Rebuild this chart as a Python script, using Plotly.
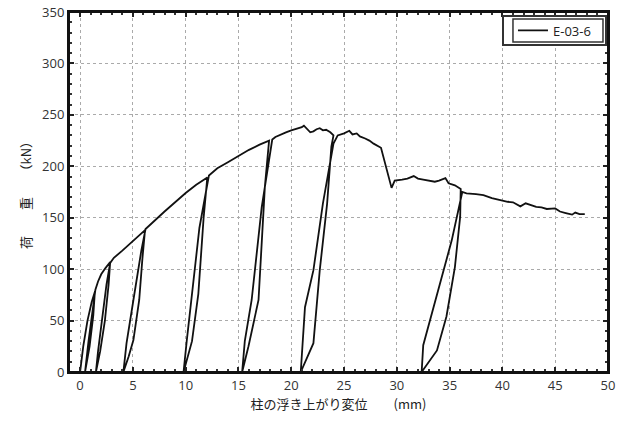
import plotly.graph_objects as go

# --- data (displacement mm, load kN), in loading order ---
c1_x = [0.0, 0.3, 0.7, 1.1, 1.4, 1.25, 0.9, 0.47, 0.8, 1.2, 1.45]
c1_y = [0, 25, 50, 68, 78, 55, 25, 0, 30, 60, 80]
env1_x = [1.7, 2.0, 2.4, 2.85]
env1_y = [88, 95, 101, 107]
c2_x = [2.7, 2.35, 1.9, 1.5, 1.7, 2.1, 2.5, 2.85, 3.2]
c2_y = [85, 50, 20, 0, 20, 55, 85, 106, 111]
env2_x = [4.0, 5.0, 6.15]
env2_y = [118, 127, 138]
c3_x = [5.9, 5.6, 5.05, 4.6, 4.1, 4.4, 5.05, 5.8, 6.2]
c3_y = [110, 70, 31, 15, 0, 28, 70, 118, 139]
env3_x = [7.0, 8.0, 9.0, 10.0, 11.0, 12.05]
env3_y = [147, 156, 165, 174, 182, 189]
c4_x = [11.7, 11.2, 10.6, 9.8, 10.1, 10.6, 11.3, 12.2]
c4_y = [150, 76, 30, 0, 30, 77, 140, 191]
env4_x = [13.0, 14.0, 15.0, 16.0, 17.0, 17.9]
env4_y = [198, 204, 210, 216, 221, 225]
c5_x = [17.5, 16.9, 15.95, 15.35, 15.6, 16.25, 17.2, 18.2]
c5_y = [180, 70, 25, 0, 30, 70, 160, 226]
env5_x = [18.5, 19.0, 19.5, 20.0, 20.5, 21.0, 21.2, 21.5, 21.8, 22.1, 22.4, 22.7,
          23.0, 23.3, 23.7, 24.0]
env5_y = [228.5, 231, 233, 235, 236.5, 238, 239.5, 236, 233, 234, 236, 237,
          235, 235.5, 233, 230]
c6_x = [23.8, 23.4, 22.7, 22.1, 20.9, 21.3, 22.1, 23.0, 24.0, 24.4]
c6_y = [219, 164, 99, 28, 0, 63, 99, 164, 222, 230]
env6_x = [25.0, 25.5, 25.8, 26.2, 26.5, 27.0, 27.4, 27.8, 28.5, 29.5, 29.8, 30.5,
          31.0, 31.6, 32.0, 32.5, 33.0, 33.6, 34.0, 34.6, 34.9, 35.5, 36.05]
env6_y = [232, 234.5, 231, 232, 229, 227, 225, 222, 218, 179, 186, 187,
          188, 190.5, 188, 187, 186, 185, 186, 188.5, 183.5, 181.5, 178]
c7_x = [36.0, 35.5, 34.7, 33.8, 32.35, 32.5, 34.1, 35.2, 36.2]
c7_y = [151, 102, 54, 21, 0, 26, 86, 128, 175]
env7_x = [36.6, 37.5, 38.2, 39.0, 39.8, 40.5, 41.0, 41.7, 42.2, 42.7, 43.2, 43.7,
          44.2, 45.0, 45.45, 46.0, 46.6, 46.9, 47.3, 47.8]
env7_y = [173.7, 173, 172, 169, 167, 165.5, 165, 161, 164, 162, 160.5, 160,
          158.5, 159, 156, 154.5, 153, 155, 153.5, 153.5]

x_ticks = [0, 5, 10, 15, 20, 25, 30, 35, 40, 45, 50]
y_ticks = [0, 50, 100, 150, 200, 250, 300, 350]
series_name = "E-03-6"

xs = (c1_x + env1_x + c2_x + env2_x + c3_x + env3_x + c4_x + env4_x + c5_x
      + env5_x + c6_x + env6_x + c7_x + env7_x)
ys = (c1_y + env1_y + c2_y + env2_y + c3_y + env3_y + c4_y + env4_y + c5_y
      + env5_y + c6_y + env6_y + c7_y + env7_y)

fig = go.Figure()
fig.add_trace(go.Scatter(x=xs, y=ys, mode="lines", name=series_name,
                         line=dict(color="#111111", width=1.8)))

tickfont = dict(family="Open Sans, DejaVu Sans, sans-serif", size=13, color="#333333")
titlefont = dict(family="Noto Sans CJK JP", size=13, color="#222222")

fig.update_layout(
    width=628, height=423,
    margin=dict(l=69, r=20, t=12, b=51, autoexpand=False),
    paper_bgcolor="white", plot_bgcolor="white",
    showlegend=True,
    legend=dict(x=0.9007, y=0.9486, xanchor="center", yanchor="middle",
                bgcolor="rgba(0,0,0,0)", borderwidth=0,
                font=dict(family="Open Sans, sans-serif", size=13, color="#222222"),
                itemwidth=30, tracegroupgap=0),
    shapes=[
        # plot frame
        dict(type="rect", xref="paper", yref="paper", x0=0, x1=1, y0=0, y1=1,
             line=dict(color="#111111", width=2), fillcolor="rgba(0,0,0,0)", layer="above"),
        # double-bordered legend box
        dict(type="rect", xref="paper", yref="paper",
             x0=0.8052, x1=0.9963, y0=0.9083, y1=0.9889,
             line=dict(color="#333333", width=2), fillcolor="white", layer="above"),
        dict(type="rect", xref="paper", yref="paper",
             x0=0.8237, x1=0.9907, y0=0.9167, y1=0.9806,
             line=dict(color="#333333", width=1.5), fillcolor="rgba(0,0,0,0)", layer="above"),
    ],
)
fig.update_xaxes(
    range=[-1.05, 50], tickvals=x_ticks, ticks="inside", ticklen=5, tickwidth=1.5,
    tickcolor="#222222", showline=True, linecolor="#111111", linewidth=2,
    mirror="ticks", showgrid=True, gridcolor="#aaaaaa", griddash="dot", gridwidth=1,
    zeroline=False, tickfont=tickfont, automargin=False, ticklabeloverflow="allow",
    minor=dict(dtick=1, tick0=0, ticks="inside", ticklen=3, tickcolor="#333333", showgrid=False),
    title=dict(text="柱の浮き上がり変位　　(mm)", font=titlefont, standoff=6),
)
fig.update_yaxes(
    range=[0, 350], tickvals=y_ticks, ticks="inside", ticklen=5, tickwidth=1.5,
    tickcolor="#222222", showline=True, linecolor="#111111", linewidth=2,
    mirror="ticks", showgrid=True, gridcolor="#aaaaaa", griddash="dot", gridwidth=1,
    zeroline=False, tickfont=tickfont, automargin=False, ticklabeloverflow="allow",
    minor=dict(dtick=10, tick0=0, ticks="inside", ticklen=3, tickcolor="#333333", showgrid=False),
    title=dict(text="荷　　重　　（kN）", font=titlefont, standoff=8),
)

# remove the browser's default 8px body margin so the figure fills the window
fig.write_html("out.html", config={"displayModeBar": False},
               post_script="document.body.style.margin='0';")
